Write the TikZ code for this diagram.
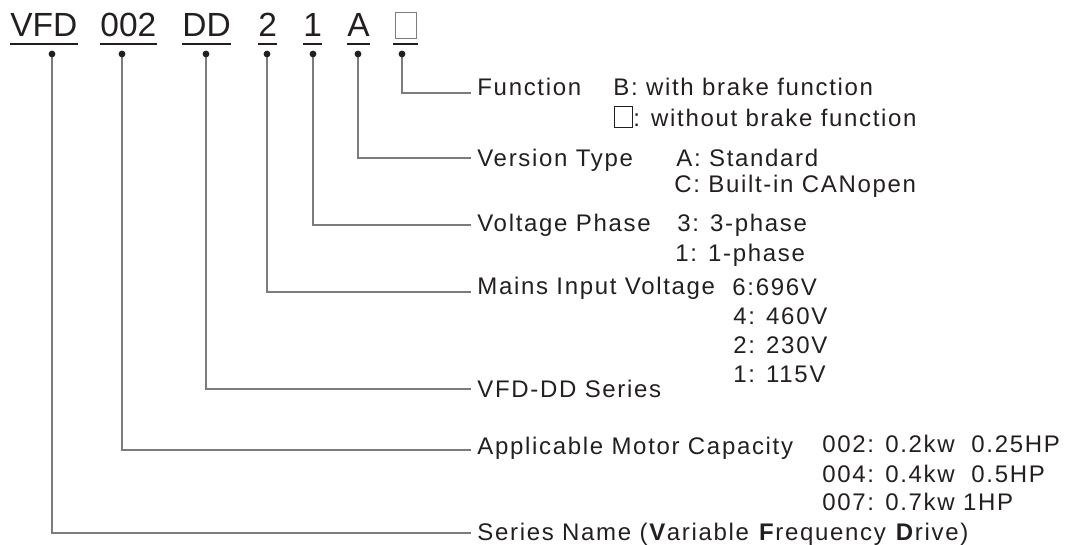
\documentclass[tikz,border=0pt]{standalone}
\usepackage{fontspec}
\setmainfont{Liberation Sans}[LetterSpace=7]
\newfontfamily\codefont{Liberation Sans}
\definecolor{ink}{HTML}{231F20}
\definecolor{leitgrau}{HTML}{7C7C7C}
\newcommand{\leerbox}{{\setlength{\fboxsep}{0pt}\setlength{\fboxrule}{0.5pt}\fbox{\rule{0pt}{10pt}\hspace{8.5pt}}}}
\tikzset{
	code/.style={anchor=base west, inner sep=0pt, text=ink,
		font=\codefont\fontsize{16.75}{20}\selectfont},
	beschr/.style={anchor=base west, inner sep=0pt, text=ink,
		font=\fontsize{12}{14}\selectfont},
	leitung/.style={draw=leitgrau, line width=0.8pt},
	strich/.style={draw=ink, line width=1pt}
}
\begin{document}
\begin{tikzpicture}[x=0.5pt, y=-0.5pt]
	\useasboundingbox (0,0) rectangle (1066,545);
	% Typenschluessel oben
	\node[code] (vfd) at (10,37) {VFD};
	\node[code] (kw) at (100,37) {002};
	\node[code] (dd) at (182,37) {DD};
	\node[code] (volt) at (258,37) {2};
	\node[code] (phase) at (303,37) {1};
	\node[code] (vers) at (347,37) {A};
	\node[draw=leitgrau, line width=0.6pt, minimum width=10.5pt,
		minimum height=13pt, inner sep=0pt, anchor=south west] (func) at (395,39) {};
	% Unterstriche
	\foreach \n in {vfd, kw, dd, volt, phase, vers}
		\draw[strich] ([shift={(0,7)}]\n.base west) -- ([shift={(0,7)}]\n.base east);
	\draw[strich] ([shift={(-2,5)}]func.south west) -- ([shift={(1,5)}]func.south east);

	% Beschriftungen
	\node[beschr] (tfunc) at (477,96) {Function};
	\node[beschr] (tvers) at (477,167) {Version Type};
	\node[beschr] (tphase) at (477,232) {Voltage Phase};
	\node[beschr] (tvolt) at (477,295) {Mains Input Voltage};
	\node[beschr] (tdd) at (477,398) {VFD-DD Series};
	\node[beschr] (tkw) at (477,454) {Applicable Motor Capacity};
	\node[beschr] (tvfd) at (477,540) {Series Name (\textbf{V}ariable \textbf{F}requency \textbf{D}rive)};

	% Werte
	\node[beschr] (wfunc1) at (613,96) {B: with brake function};
	\node[beschr] (wfunc2) at (614,127) {\leerbox: without brake function};
	\node[beschr] (wvers1) at (676,167) {A: Standard};
	\node[beschr] (wvers2) at (674,193) {C: Built-in CANopen};
	\node[beschr] (wphase1) at (677,232) {3: 3-phase};
	\node[beschr] (wphase2) at (675,262) {1: 1-phase};
	\node[beschr] (wvolt1) at (732,296) {6:696V};
	\node[beschr] (wvolt2) at (733,325) {4: 460V};
	\node[beschr] (wvolt3) at (733,354) {2: 230V};
	\node[beschr] (wvolt4) at (733,382) {1: 115V};
	\node[beschr] (wkw1) at (822,452) {002: 0.2kw\ \ 0.25HP};
	\node[beschr] (wkw2) at (822,482) {004: 0.4kw\ \ 0.5HP};
	\node[beschr] (wkw3) at (822,510) {007: 0.7kw 1HP};

	% Punkte und Leitungen
	\foreach \x/\n/\k in {52/tvfd/7, 122/tkw/4, 206/tdd/9, 267/tvolt/3,
		313/tphase/7, 358/tvers/9, 402/tfunc/3} {
		\coordinate (p\n) at (\x,54);
		\draw[leitung] (p\n) |- ([shift={(-6,-\k)}]\n.base west);
		\fill[ink] (p\n) circle[radius=1.7pt];
	}
\end{tikzpicture}
\end{document}
